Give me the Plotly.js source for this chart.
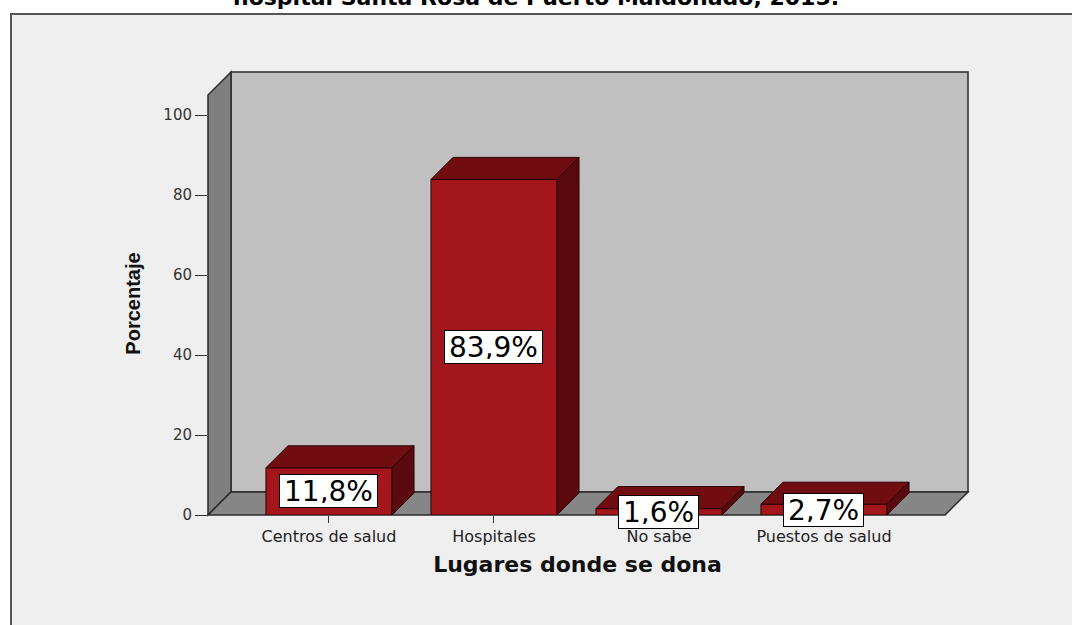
<!DOCTYPE html>
<html><head><meta charset="utf-8">
<script src="https://cdn.plot.ly/plotly-3.0.1.min.js"></script>
<style>html,body{margin:0;padding:0;background:#fff}#chart{width:1072px;height:625px}</style>
</head><body><div id="chart"></div>
<script>
// ---- data ----
const categories = ['Centros de salud', 'Hospitales', 'No sabe', 'Puestos de salud'];
const percentages = [11.8, 83.9, 1.6, 2.7];
const yTickValues = [0, 20, 40, 60, 80, 100];
const chartTitle = 'hospital Santa Rosa de Puerto Maldonado, 2015.';
const xTitle = 'Lugares donde se dona';
const yTitle = 'Porcentaje';

// ---- layout geometry ----
const W = 1072, H = 625;
const M = {l: 208, r: 125, t: 92, b: 110};
const plotW = W - M.l - M.r, plotH = H - M.t - M.b;
const xRange = [-0.7333, 3.7455];
const yRange = [0, 105.75];
const barWidth = 0.764;
const barDepthPx = 22, wallDepthPx = 23;
const dx = barDepthPx * (xRange[1] - xRange[0]) / plotW;
const dy = barDepthPx * (yRange[1] - yRange[0]) / plotH;
const wdxP = wallDepthPx / plotW, wdyP = wallDepthPx / plotH;
const wallTopP = (M.t + plotH - 72) / plotH;   // back wall top in paper units
const wallRightP = (968 - M.l) / plotW;

const FRONT = '#a3161b', TOP = '#6f0d10', SIDE = '#5a0a0c', EDGE = '#2a0304';
const xVals = categories.map((c, i) => i);

const traces = [{
  type: 'bar', x: xVals, y: percentages, width: barWidth,
  marker: {color: FRONT, line: {color: EDGE, width: 1}},
  hoverinfo: 'skip', showlegend: false
}];
percentages.forEach((v, i) => {
  const xl = i - barWidth / 2, xr = i + barWidth / 2;
  traces.push({
    type: 'scatter', mode: 'lines', fill: 'toself', fillcolor: TOP,
    x: [xl, xl + dx, xr + dx, xr, xl], y: [v, v + dy, v + dy, v, v],
    line: {color: EDGE, width: 1}, hoverinfo: 'skip', showlegend: false
  });
  traces.push({
    type: 'scatter', mode: 'lines', fill: 'toself', fillcolor: SIDE,
    x: [xr, xr, xr + dx, xr + dx, xr], y: [0, v, v + dy, dy, 0],
    line: {color: EDGE, width: 1}, hoverinfo: 'skip', showlegend: false
  });
});

const annotations = percentages.map((v, i) => ({
  x: i, y: v / 2, xref: 'x', yref: 'y', showarrow: false,
  text: v.toFixed(1).replace('.', ',') + '%',
  font: {family: 'DejaVu Sans', size: 28, color: '#000'},
  bgcolor: '#ffffff', bordercolor: '#000', borderwidth: 1, borderpad: 4,
  height: 24, valign: 'middle'
}));
annotations.push({
  x: (536 - M.l) / plotW, y: (M.t + plotH - 12) / plotH, xref: 'paper', yref: 'paper',
  xanchor: 'center', yanchor: 'bottom', showarrow: false, text: chartTitle,
  font: {family: 'DejaVu Sans', size: 22, color: '#000', weight: 'bold'}
});

const shapes = [
  // outer frame
  {type: 'rect', xref: 'paper', yref: 'paper', layer: 'below',
   x0: (11 - M.l) / plotW, x1: (1090 - M.l) / plotW,
   y0: (M.t + plotH - 640) / plotH, y1: (M.t + plotH - 14) / plotH,
   fillcolor: '#efefef', line: {color: '#555', width: 2}},
  // back wall
  {type: 'rect', xref: 'paper', yref: 'paper', layer: 'below',
   x0: wdxP, x1: wallRightP, y0: wdyP, y1: wallTopP,
   fillcolor: '#c0c0c0', line: {color: '#2b2b2b', width: 1.5}},
  // left side wall
  {type: 'path', xref: 'paper', yref: 'paper', layer: 'below',
   path: `M 0 0 L ${wdxP} ${wdyP} L ${wdxP} ${wallTopP} L 0 ${wallTopP - wdyP} Z`,
   fillcolor: '#7f7f7f', line: {color: '#2b2b2b', width: 1.5}},
  // floor
  {type: 'path', xref: 'paper', yref: 'paper', layer: 'below',
   path: `M 0 0 L ${wdxP} ${wdyP} L ${wallRightP} ${wdyP} L ${wallRightP - wdxP} 0 Z`,
   fillcolor: '#868686', line: {color: '#2b2b2b', width: 1.5}}
];

const layout = {
  width: W, height: H, margin: M,
  paper_bgcolor: '#ffffff', plot_bgcolor: 'rgba(0,0,0,0)',
  showlegend: false, bargap: 0,
  xaxis: {
    range: xRange, tickvals: xVals, ticktext: categories,
    ticks: 'outside', ticklen: 7, tickcolor: '#333', tickwidth: 1,
    showgrid: false, zeroline: false, showline: false, fixedrange: true,
    tickfont: {family: 'DejaVu Sans', size: 16, color: '#222'},
    title: {text: xTitle, standoff: 11,
            font: {family: 'DejaVu Sans', size: 22, color: '#111', weight: 'bold'}}
  },
  yaxis: {
    range: yRange, tickvals: yTickValues, ticktext: yTickValues.map(String),
    ticks: 'outside', ticklen: 12, tickcolor: '#333', tickwidth: 1,
    showgrid: false, zeroline: false, showline: false, fixedrange: true,
    tickfont: {family: 'DejaVu Sans', size: 15, color: '#333'},
    title: {text: yTitle, standoff: 17,
            font: {family: 'Liberation Sans', size: 20, color: '#111', weight: 'bold'}}
  },
  annotations: annotations, shapes: shapes
};

Plotly.newPlot('chart', traces, layout, {staticPlot: true, displayModeBar: false});
</script></body></html>
